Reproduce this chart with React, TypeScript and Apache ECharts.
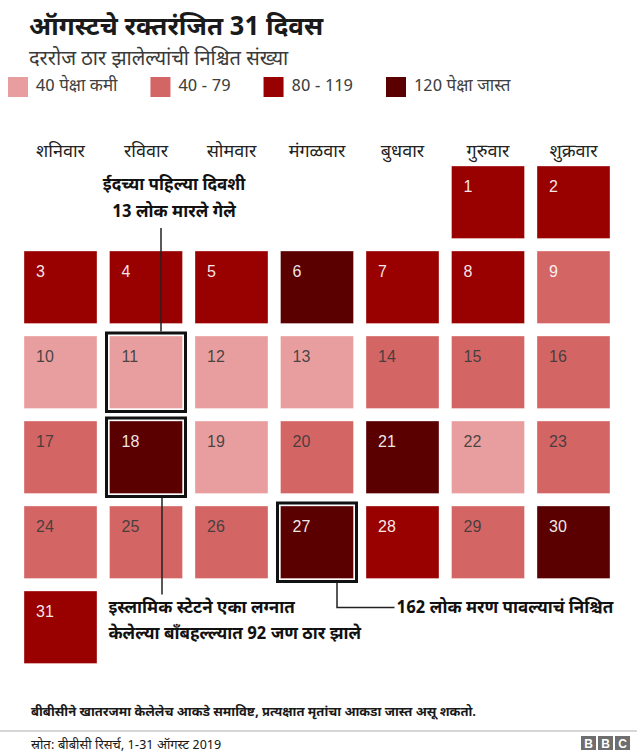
import React, { useEffect, useRef } from "react";
import * as echarts from "echarts";

// Week starts on Saturday
const WEEKDAYS = ["शनिवार", "रविवार", "सोमवार", "मंगळवार", "बुधवार", "गुरुवार", "शुक्रवार"];
const WEEKS = ["1", "2", "3", "4", "5", "6"];

// Confirmed deaths per day, 1-31 August 2019
const DAYS = [
  1, 2, 3, 4, 5, 6, 7, 8, 9, 10, 11, 12, 13, 14, 15, 16,
  17, 18, 19, 20, 21, 22, 23, 24, 25, 26, 27, 28, 29, 30, 31,
];
const DEATHS = [
  95, 88, 101, 84, 97, 133, 110, 92, 56, 28, 13, 31, 24, 62, 49, 71,
  44, 128, 35, 53, 141, 26, 58, 47, 66, 51, 162, 104, 45, 137, 86,
];

// Colour bands
const BAND_NAMES = ["40 पेक्षा कमी", "40 - 79", "80 - 119", "120 पेक्षा जास्त"];
const BAND_LOWER = [0, 40, 80, 120];

// Annotated days and their notes
const HIGHLIGHT_DAYS = [11, 18, 27];
const HIGHLIGHT_NOTES = [
  ["ईदच्या पहिल्या दिवशी", "13 लोक मारले गेले"],
  ["इस्लामिक स्टेटने एका लग्नात", "केलेल्या बॉंबहल्ल्यात 92 जण ठार झाले"],
  ["162 लोक मरण पावल्याचं निश्चित"],
];

const TITLE = "ऑगस्टचे रक्तरंजित 31 दिवस";
const SUBTITLE = "दररोज ठार झालेल्यांची निश्चित संख्या";
const NOTE = "बीबीसीने खातरजमा केलेलेच आकडे समाविष्ट, प्रत्यक्षात मृतांचा आकडा जास्त असू शकतो.";
const SOURCE = "स्रोत: बीबीसी रिसर्च, 1-31 ऑगस्ट 2019";

const BAND_COLORS = ["#e89e9e", "#d46565", "#990000", "#5a0000"];
const BAND_TEXT = ["#3a3a3a", "#3a3a3a", "#ffffff", "#ffffff"];
const LIGHT_LABEL_DAYS = [9];

const DEVA = "'Noto Sans Devanagari', 'Noto Sans', 'Lohit Devanagari', sans-serif";
const LATIN = "'Liberation Sans', Arial, sans-serif";
const CELL_GAP = 12.5;

function bandOf(v: number): number {
  let b = 0;
  BAND_LOWER.forEach((lo, i) => {
    if (v >= lo) b = i;
  });
  return b;
}

// Column (0 = Saturday) and week row of each date
const firstCol = (new Date(2019, 7, 1).getDay() + 1) % 7;
function cellOf(day: number): [number, number] {
  const col = (new Date(2019, 7, day).getDay() + 1) % 7;
  const row = Math.floor((firstCol + day - 1) / 7);
  return [col, row];
}

function cellRect(api: any) {
  const c = api.coord([api.value(0), api.value(1)]);
  const s = api.size([1, 1]);
  const w = s[0] - CELL_GAP;
  const h = s[1] - CELL_GAP;
  return { cx: c[0], cy: c[1], x: c[0] - w / 2, y: c[1] - h / 2, w, h };
}

export default function App() {
  const ref = useRef<HTMLDivElement>(null);

  useEffect(() => {
    if (!ref.current) return;
    const chart = echarts.init(ref.current, undefined, { renderer: "svg" });

    const bandSeries = BAND_NAMES.map((name, b) => ({
      name,
      type: "custom",
      coordinateSystem: "cartesian2d",
      itemStyle: { color: BAND_COLORS[b] },
      encode: { x: 0, y: 1 },
      data: DAYS.map((d, i) => [...cellOf(d), d, DEATHS[i]]).filter(
        (r) => bandOf(r[3]) === b
      ),
      renderItem: (_p: any, api: any) => {
        const r = cellRect(api);
        const day = api.value(2);
        const txt = LIGHT_LABEL_DAYS.includes(day) ? "#ffffff" : BAND_TEXT[b];
        return {
          type: "group",
          children: [
            {
              type: "rect",
              shape: { x: r.x, y: r.y, width: r.w, height: r.h },
              style: { fill: BAND_COLORS[b], stroke: "rgba(255,255,255,0.35)", lineWidth: 1 },
            },
            {
              type: "text",
              x: r.x + 12,
              y: r.y + 20,
              style: {
                text: String(day),
                fill: txt,
                font: `16px ${LATIN}`,
                verticalAlign: "middle",
                opacity: 0.92,
              },
            },
          ],
        };
      },
    }));

    const noteFont = `bold 17px ${DEVA}`;
    const annotationSeries = {
      name: "notes",
      type: "custom",
      coordinateSystem: "cartesian2d",
      z: 10,
      silent: true,
      encode: { x: 0, y: 1 },
      data: HIGHLIGHT_DAYS.map((d) => [...cellOf(d), d]),
      renderItem: (p: any, api: any) => {
        const r = cellRect(api);
        const i = p.dataIndex;
        const notes = HIGHLIGHT_NOTES[i];
        const children: any[] = [
          {
            type: "rect",
            shape: { x: r.x - 3, y: r.y - 3, width: r.w + 6, height: r.h + 6 },
            style: { fill: "none", stroke: "#111111", lineWidth: 3 },
          },
        ];
        const lineStyle = { stroke: "#222222", lineWidth: 1.5, fill: "none" };
        const textStyle = (t: string, align: string) => ({
          text: t,
          font: noteFont,
          fill: "#111111",
          textAlign: align,
          verticalAlign: "middle",
        });
        const top = r.y;
        const bottom = r.y + r.h;
        if (i === 0) {
          const lx = r.cx + 15;
          children.push({
            type: "line",
            shape: { x1: lx, y1: top - 4.5, x2: lx, y2: top - 108 },
            style: lineStyle,
          });
          notes.forEach((t, k) =>
            children.push({
              type: "text",
              x: r.cx + 28,
              y: top - 150 + k * 27,
              style: textStyle(t, "center"),
            })
          );
        } else if (i === 1) {
          const lx = r.cx + 16;
          children.push({
            type: "line",
            shape: { x1: lx, y1: bottom + 4.5, x2: lx, y2: bottom + 101 },
            style: lineStyle,
          });
          notes.forEach((t, k) =>
            children.push({
              type: "text",
              x: r.x - 1,
              y: bottom + 115 + k * 26,
              style: textStyle(t, "left"),
            })
          );
        } else {
          const lx = r.cx + 20;
          children.push({
            type: "polyline",
            shape: {
              points: [
                [lx, bottom + 4.5],
                [lx, bottom + 29],
                [r.x + r.w + 41, bottom + 29],
              ],
            },
            style: lineStyle,
          });
          notes.forEach((t) =>
            children.push({
              type: "text",
              x: r.x + r.w + 43,
              y: bottom + 30,
              style: textStyle(t, "left"),
            })
          );
        }
        return { type: "group", children };
      },
    };

    chart.setOption({
      animation: false,
      backgroundColor: "#ffffff",
      title: {
        text: TITLE,
        subtext: SUBTITLE,
        left: 24,
        top: 9,
        itemGap: 4,
        textStyle: { fontFamily: DEVA, fontSize: 26, fontWeight: "bold", color: "#1a1a1a", lineHeight: 30 },
        subtextStyle: { fontFamily: DEVA, fontSize: 20, color: "#3a3a3a", lineHeight: 24 },
      },
      legend: {
        data: BAND_NAMES,
        left: 8,
        top: 77,
        padding: 0,
        icon: "rect",
        itemWidth: 20,
        itemHeight: 20,
        itemGap: 33,
        selectedMode: false,
        textStyle: { fontFamily: DEVA, fontSize: 17, color: "#404040", padding: [0, 0, 0, 3] },
      },
      grid: { left: 17.75, top: 159.75, width: 598.5, height: 510 },
      xAxis: {
        type: "category",
        position: "top",
        data: WEEKDAYS,
        axisLine: { show: false },
        axisTick: { show: false },
        splitLine: { show: false },
        axisLabel: {
          margin: -2,
          fontFamily: DEVA,
          fontSize: 18,
          color: "#222222",
        },
      },
      yAxis: {
        type: "category",
        data: WEEKS,
        inverse: true,
        show: false,
      },
      series: [...bandSeries, annotationSeries],
      graphic: [
        {
          type: "text",
          left: 31,
          top: 706,
          style: { text: NOTE, font: `bold 13px ${DEVA}`, fill: "#1a1a1a" },
        },
        {
          type: "line",
          shape: { x1: 0, y1: 731, x2: 637, y2: 731 },
          style: { stroke: "#c8c8c8", lineWidth: 1.5 },
        },
        {
          type: "text",
          left: 31,
          top: 739,
          style: { text: SOURCE, font: `13px ${DEVA}`, fill: "#1a1a1a" },
        },
        {
          type: "group",
          left: 581,
          top: 736,
          children: ["B", "B", "C"].map((ch, k) => ({
            type: "group",
            x: k * 17,
            children: [
              { type: "rect", shape: { x: 0, y: 0, width: 15, height: 14 }, style: { fill: "#6e6e6e" } },
              {
                type: "text",
                x: 7.5,
                y: 7.5,
                style: {
                  text: ch,
                  font: `bold 12px ${LATIN}`,
                  fill: "#ffffff",
                  textAlign: "center",
                  verticalAlign: "middle",
                },
              },
            ],
          })),
        },
      ],
    });

    return () => chart.dispose();
  }, []);

  return (
    <div
      ref={ref}
      style={{ position: "fixed", left: 0, top: 0, width: 640, height: 754, background: "#fff" }}
    />
  );
}
